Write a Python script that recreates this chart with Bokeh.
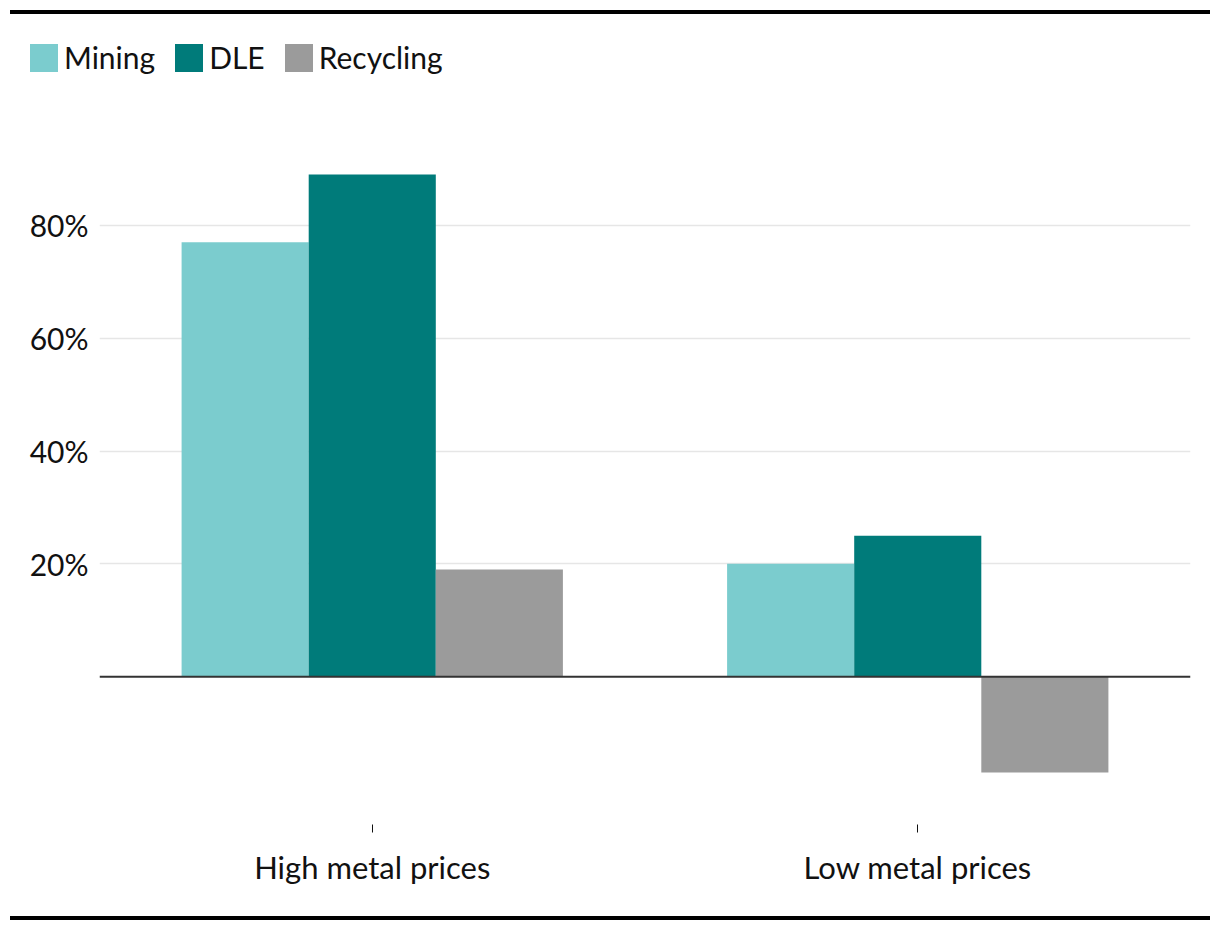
from bokeh.plotting import figure
from bokeh.models import (ColumnDataSource, FactorRange, Range1d, FixedTicker, Span,
                          Legend, LegendItem, Div, CustomJSTickFormatter)
from bokeh.transform import dodge
from bokeh.layouts import column
from bokeh.embed import file_html
from bokeh.resources import INLINE

categories = ["High metal prices", "Low metal prices"]
series = ["Mining", "DLE", "Recycling"]
mining = [77, 20]
dle = [89, 25]
recycling = [19, -17]
y_ticks = [20, 40, 60, 80]

colors = {"Mining": "#7bccce", "DLE": "#007b7a", "Recycling": "#9b9b9b"}
FONT = "Lato"

src = ColumnDataSource(dict(cat=categories, Mining=mining, DLE=dle, Recycling=recycling))

w = 0.233
offsets = [-w, 0, w]

# ---------------- main chart ----------------
p = figure(x_range=FactorRange(factors=categories, range_padding=0),
           y_range=Range1d(-26.2, 100),
           width=1204, height=830, output_backend="svg", toolbar_location=None,
           min_border_top=28, min_border_bottom=90, min_border_left=91, min_border_right=22,
           margin=(0, 0, 0, 8))
p.outline_line_color = None
p.frame_align = False

for s, off in zip(series, offsets):
    p.vbar(x=dodge("cat", off, range=p.x_range), top=s, bottom=0, width=w,
           source=src, fill_color=colors[s], line_color=None)

p.add_layout(Span(location=0, dimension="width", line_color="#333333", line_width=2))

p.yaxis.ticker = FixedTicker(ticks=y_ticks)
p.yaxis.formatter = CustomJSTickFormatter(code="return tick + '%';")
p.yaxis.axis_line_color = None
p.yaxis.major_tick_line_color = None
p.yaxis.minor_tick_line_color = None
p.yaxis.major_label_text_font = FONT
p.yaxis.major_label_text_font_size = "30px"
p.yaxis.major_label_text_color = "#111111"
p.yaxis.major_label_standoff = 5

p.xaxis.axis_line_color = None
p.xaxis.major_tick_line_color = "#111111"
p.xaxis.major_tick_in = 0
p.xaxis.major_tick_out = 8
p.xaxis.major_label_text_font = FONT
p.xaxis.major_label_text_font_size = "31px"
p.xaxis.major_label_text_color = "#111111"
p.xaxis.major_label_standoff = 15

p.xgrid.grid_line_color = None
p.ygrid.grid_line_color = "#e6e6e6"
p.ygrid.grid_line_width = 1.5

# ---------------- legend strip ----------------
lf = figure(x_range=FactorRange(factors=categories), y_range=Range1d(1000, 1001),
            width=1204, height=70, output_backend="svg", toolbar_location=None,
            x_axis_location=None, y_axis_location=None, min_border=0,
            min_border_left=0, min_border_right=0, min_border_top=0, min_border_bottom=0,
            margin=(0, 0, 0, 8))
lf.outline_line_color = None
lf.grid.visible = False
lf.frame_align = False
lrs = []
for s, off in zip(series, offsets):
    r = lf.vbar(x=dodge("cat", off, range=lf.x_range), top=s, bottom=0, width=w,
                source=src, fill_color=colors[s], line_color=None)
    lrs.append(r)

legend = Legend(items=[LegendItem(label=s, renderers=[r]) for s, r in zip(series, lrs)],
                orientation="horizontal", location=(18, 9))
legend.border_line_color = None
legend.background_fill_alpha = 0
legend.padding = 0
legend.margin = 0
legend.spacing = 16
legend.glyph_width = 35
legend.glyph_height = 35
legend.label_standoff = 3
legend.label_text_font = FONT
legend.label_text_font_size = "30px"
legend.label_text_color = "#111111"
lf.add_layout(legend, "center")

top_line = Div(text="", width=1200, height=4, margin=(10, 0, 0, 10),
               styles={"background-color": "#000000"})
bottom_line = Div(text="", width=1200, height=4, margin=(2, 0, 0, 10),
                  styles={"background-color": "#000000"})

layout = column(top_line, lf, p, bottom_line, spacing=0)
open("out.html", "w").write(file_html(layout, INLINE))
